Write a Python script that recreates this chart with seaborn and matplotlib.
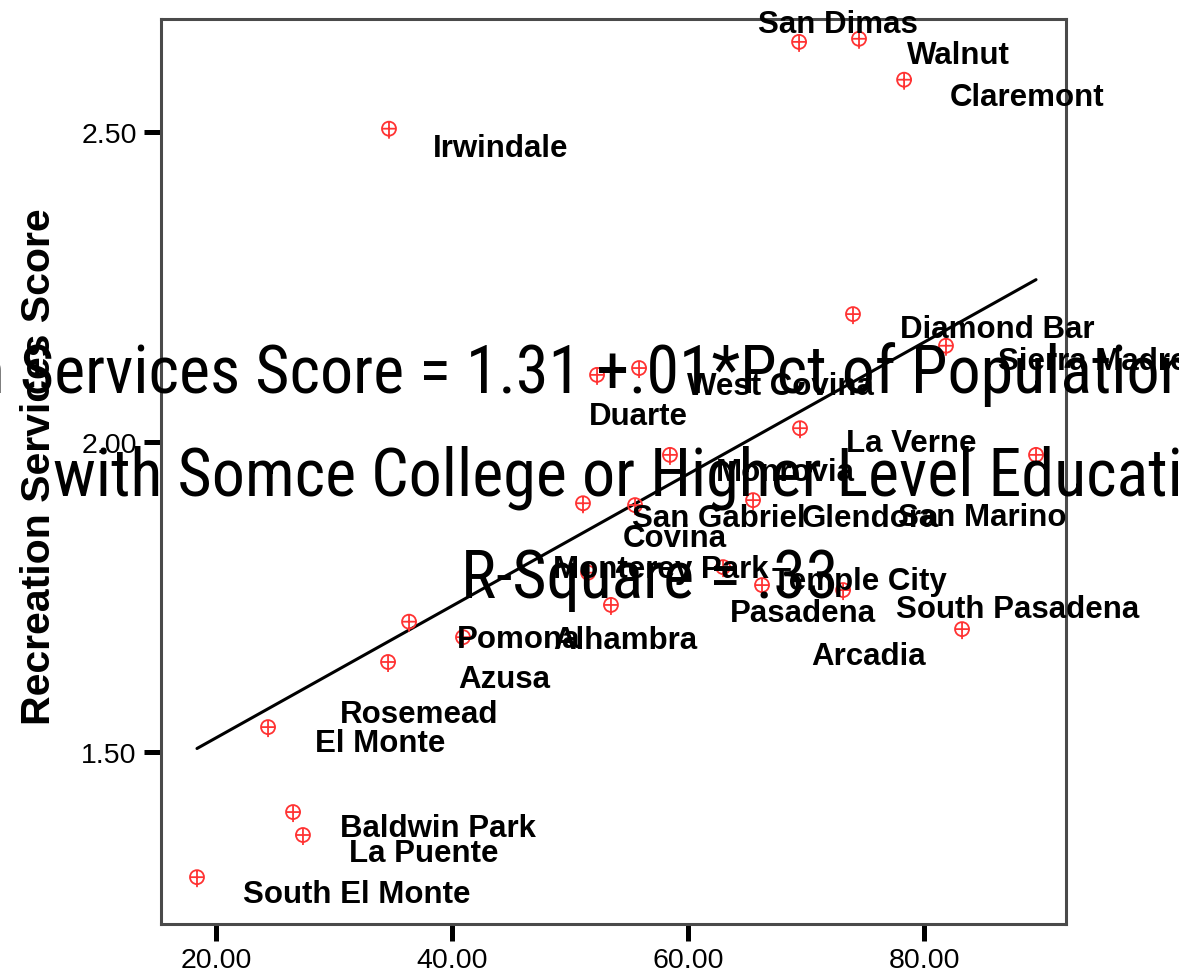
import numpy as np
import pandas as pd
import matplotlib
matplotlib.use("Agg")
import matplotlib.pyplot as plt
from matplotlib.path import Path
from matplotlib import font_manager
import seaborn as sns

# ---- data -------------------------------------------------------------
cities = [
    "Irwindale", "San Dimas", "Walnut", "Claremont", "Diamond Bar",
    "Sierra Madre", "West Covina", "Duarte", "La Verne", "Monrovia",
    "San Marino", "Glendora", "San Gabriel", "Covina", "Monterey Park",
    "Temple City", "Pasadena", "South Pasadena", "Alhambra", "Arcadia",
    "Pomona", "Azusa", "Rosemead", "El Monte", "Baldwin Park",
    "La Puente", "South El Monte",
]
pct_college = [
    34.66, 69.41, 74.49, 78.31, 73.98,
    81.86, 55.85, 52.29, 69.49, 58.47,
    89.49, 65.51, 51.10, 55.51, 51.53,
    62.97, 66.27, 73.14, 53.47, 83.22,
    36.36, 40.93, 34.58, 24.41, 26.53,
    27.37, 18.39,
]
recreation_score = [
    2.489, 2.629, 2.634, 2.568, 2.190,
    2.139, 2.103, 2.092, 2.006, 1.963,
    1.963, 1.890, 1.885, 1.882, 1.773,
    1.782, 1.753, 1.745, 1.721, 1.682,
    1.694, 1.669, 1.629, 1.524, 1.387,
    1.350, 1.282,
]
x_ticks = [20, 40, 60, 80]
y_ticks = [1.50, 2.00, 2.50]
y_title = "Recreation Services Score"
title_lines = [
    "Recreation Services Score = 1.31 +.01*Pct of Population 25",
    "with Somce College or Higher Level Education",
    "R-Square = .33",
]

# label placement: pixels right / pixels down from each point
label_offsets = {
    "Irwindale": (44, 17), "San Dimas": (-41, -20), "Walnut": (48, 14),
    "Claremont": (46, 15), "Diamond Bar": (47, 13), "Sierra Madre": (52, 13),
    "West Covina": (48, 16), "Duarte": (-8, 39), "La Verne": (46, 13),
    "Monrovia": (46, 15), "San Marino": (-138, 60), "Glendora": (49, 16),
    "San Gabriel": (49, 13), "Covina": (-12, 31), "Monterey Park": (-35, -6),
    "Temple City": (49, 12), "Pasadena": (-32, 26), "South Pasadena": (53, 17),
    "Alhambra": (-58, 33), "Arcadia": (-151, 25), "Pomona": (48, 15),
    "Azusa": (-5, 40), "Rosemead": (-48, 50), "El Monte": (47, 14),
    "Baldwin Park": (47, 14), "La Puente": (46, 16), "South El Monte": (46, 15),
}

df = pd.DataFrame({"city": cities, "pct": pct_college, "score": recreation_score})

# ---- style ------------------------------------------------------------
sns.set_style("white")
plt.rcParams["font.family"] = ["Liberation Sans", "DejaVu Sans"]

names = {f.name for f in font_manager.fontManager.ttflist}
title_family = "Liberation Sans"
for cand in ["Liberation Sans Narrow", "Roboto Condensed", "Arial Narrow"]:
    if cand in names:
        title_family = cand
        break

W, H, DPI = 1179, 978, 100
fig = plt.figure(figsize=(W / DPI, H / DPI), dpi=DPI)
ax = fig.add_axes([161 / W, 1 - 925 / H, 905 / W, 905 / H])

RED = "#ff3333"

# pin-style marker: circle with cross, stem running down to the data point
circ = Path.circle(center=(0, 10), radius=7)
verts = list(circ.vertices) + [(-7, 10), (7, 10), (0, 17), (0, 0)]
codes = list(circ.codes) + [Path.MOVETO, Path.LINETO, Path.MOVETO, Path.LINETO]
pin = Path(verts, codes)
ms_pt = 34 * 72 / DPI

sns.regplot(data=df, x="pct", y="score", scatter=False, ci=None,
            color="black", line_kws={"lw": 2.2, "zorder": 2}, ax=ax)
sns.scatterplot(data=df, x="pct", y="score", marker=pin, s=ms_pt ** 2,
                color=RED, linewidth=1.3, ax=ax, zorder=3, legend=False)
pts = ax.collections[-1]
pts.set_facecolor("none")
pts.set_edgecolor(RED)

for c, xv, yv in zip(cities, pct_college, recreation_score):
    dx, dy = label_offsets[c]
    ax.annotate(c, (xv, yv), xytext=(dx, -dy), textcoords="offset pixels",
                ha="left", va="baseline", fontsize=22.5, fontweight="bold",
                color="black", annotation_clip=False, clip_on=False, zorder=4)

ax.set_xlim(15.34, 92.03)
ax.set_ylim(1.2226, 2.682)
ax.set_xticks(x_ticks)
ax.set_xticklabels([f"{v:.2f}" for v in x_ticks])
ax.set_yticks(y_ticks)
ax.set_yticklabels([f"{v:.2f}" for v in y_ticks])
ax.tick_params(axis="both", direction="out", length=12.5, width=3.6,
               color="black", labelcolor="black", left=True, bottom=True)
ax.tick_params(axis="x", labelsize=20.5, pad=4)
ax.tick_params(axis="y", labelsize=20.5, pad=5)
ax.set_xlabel("")
ax.set_ylabel(y_title, fontsize=29.5, fontweight="bold", color="black")
ax.yaxis.set_label_coords((58 - 161) / 905, (925 - 467) / 905)
for sp in ax.spines.values():
    sp.set_visible(True)
    sp.set_color("#4a4a4a")
    sp.set_linewidth(2.2)

# ---- equation title drawn across the plot ------------------------------
renderer = fig.canvas.get_renderer()


def text_width(s, size):
    t = fig.text(0, 0, s, fontsize=size, family=title_family)
    w = t.get_window_extent(renderer).width
    t.remove()
    return w


tsize = float(np.clip(50 * 1195 / text_width(title_lines[1], 50), 36, 64))

# first line: "Services" begins just inside the left edge
lead = text_width("Recreation Services", tsize) - text_width("Services", tsize)
fig.text((20 - lead) / W, 1 - 393 / H, title_lines[0], ha="left",
         va="baseline", fontsize=tsize, family=title_family, color="black",
         zorder=10)
for line, by in zip(title_lines[1:], [496, 598]):
    fig.text(650 / W, 1 - by / H, line, ha="center", va="baseline",
             fontsize=tsize, family=title_family, color="black", zorder=10)

fig.savefig("out.png", dpi=DPI, facecolor="white")
